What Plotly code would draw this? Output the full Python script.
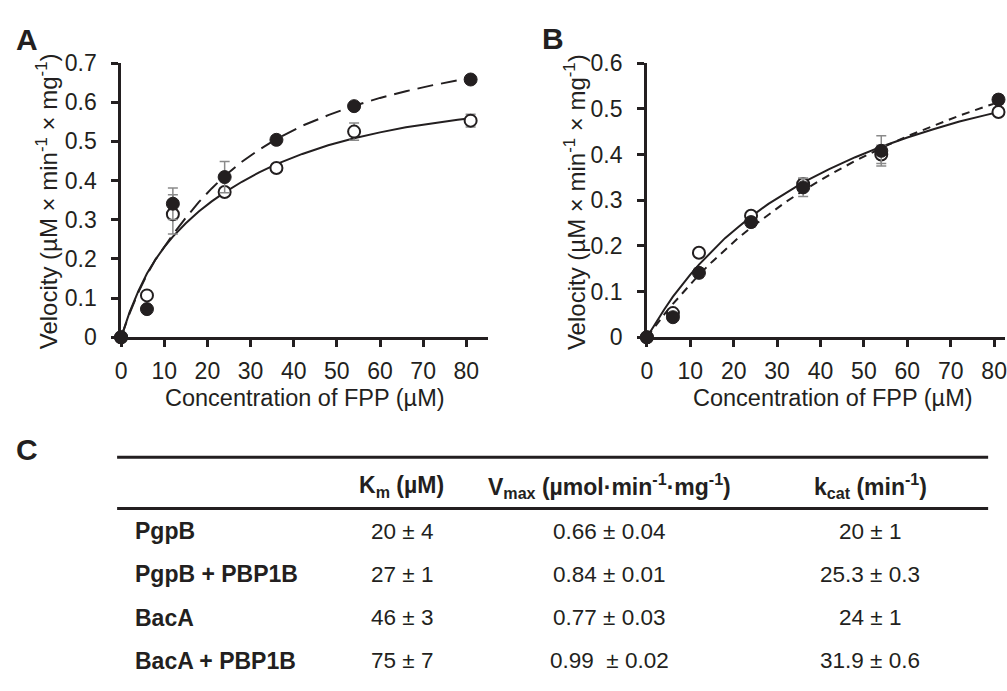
import plotly.graph_objects as go

# ---------------- data ----------------
conc = [0, 6, 12, 24, 36, 54, 81]

# Panel A
a_filled = [0, 0.072, 0.341, 0.409, 0.504, 0.590, 0.658]
a_filled_err = [0, 0.01, 0.04, 0.04, 0.01, 0.01, 0.01]
a_open = [0, 0.107, 0.314, 0.371, 0.432, 0.525, 0.553]
a_open_err = [0, 0.01, 0.05, 0.01, 0.01, 0.022, 0.016]

# Panel B
b_filled = [0, 0.044, 0.141, 0.252, 0.328, 0.408, 0.520]
b_filled_err = [0, 0.005, 0.01, 0.01, 0.02, 0.033, 0.01]
b_open = [0, 0.053, 0.185, 0.266, 0.335, 0.400, 0.493]
b_open_err = [0, 0.005, 0.005, 0.005, 0.013, 0.02, 0.005]

# fitted curves
fit_x = [0, 2, 4, 6, 8, 10, 12, 15, 18, 21, 24, 28, 32, 36, 42, 48, 54, 60, 66, 72, 78, 81]
a_fit_solid = [0, 0.065, 0.118, 0.163, 0.199, 0.230, 0.257, 0.291, 0.321, 0.347, 0.370, 0.397,
               0.421, 0.442, 0.468, 0.490, 0.508, 0.523, 0.536, 0.546, 0.555, 0.559]
a_fit_dash = [0, 0.062, 0.115, 0.160, 0.199, 0.232, 0.262, 0.305, 0.345, 0.380, 0.412, 0.448,
              0.479, 0.506, 0.540, 0.567, 0.591, 0.611, 0.628, 0.643, 0.656, 0.662]
b_fit_solid = [0, 0.032, 0.061, 0.089, 0.114, 0.137, 0.159, 0.189, 0.217, 0.241, 0.264, 0.292,
               0.316, 0.339, 0.368, 0.394, 0.417, 0.437, 0.455, 0.472, 0.486, 0.493]
b_fit_dash = [0, 0.026, 0.050, 0.073, 0.095, 0.117, 0.137, 0.165, 0.192, 0.217, 0.240, 0.269,
              0.296, 0.321, 0.355, 0.386, 0.414, 0.440, 0.463, 0.485, 0.505, 0.514]

x_ticks = [0, 10, 20, 30, 40, 50, 60, 70, 80]

# table
row_labels = ["PgpB", "PgpB + PBP1B", "BacA", "BacA + PBP1B"]
km_values = ["20 ± 4", "27 ± 1", "46 ± 3", "75 ± 7"]
vmax_values = ["0.66 ± 0.04", "0.84 ± 0.01", "0.77 ± 0.03", "0.99\u00a0 ± 0.02"]
kcat_values = ["20 ± 1", "25.3 ± 0.3", "24 ± 1", "31.9 ± 0.6"]
col_headers = ["K<sub>m</sub> (µM)",
               "V<sub>max</sub> (µmol·min<sup>-1</sup>·mg<sup>-1</sup>)",
               "k<sub>cat</sub> (min<sup>-1</sup>)"]

# ---------------- style ----------------
W, H = 1007, 691
INK = "#231f20"
GREY = "#8a8a8a"
FONT = "Liberation Sans, Arial, sans-serif"


def fx(p):
    return p / W


def fy(p):
    return 1 - p / H


fig = go.Figure()


def add_panel(xa, ya, x_fit, y_solid, y_dash, dash, y_open, e_open, y_fill, e_fill):
    fig.add_trace(go.Scatter(x=x_fit, y=y_solid, mode="lines", xaxis=xa, yaxis=ya,
                             line=dict(color=INK, width=2), hoverinfo="skip"))
    fig.add_trace(go.Scatter(x=x_fit, y=y_dash, mode="lines", xaxis=xa, yaxis=ya,
                             line=dict(color=INK, width=2, dash=dash), hoverinfo="skip"))
    fig.add_trace(go.Scatter(x=conc, y=y_open, mode="markers", xaxis=xa, yaxis=ya,
                             cliponaxis=False,
                             marker=dict(size=12, color="white", line=dict(color=INK, width=2)),
                             error_y=dict(type="data", array=e_open, color=GREY,
                                          thickness=1.5, width=5)))
    fig.add_trace(go.Scatter(x=conc, y=y_fill, mode="markers", xaxis=xa, yaxis=ya,
                             cliponaxis=False,
                             marker=dict(size=13, color=INK, line=dict(color=INK, width=1)),
                             error_y=dict(type="data", array=e_fill, color=GREY,
                                          thickness=1.5, width=5)))


add_panel("x", "y", fit_x, a_fit_solid, a_fit_dash, "16px,8px", a_open, a_open_err, a_filled, a_filled_err)
add_panel("x2", "y2", fit_x, b_fit_solid, b_fit_dash, "8px,6px", b_open, b_open_err, b_filled, b_filled_err)

axis_common = dict(showline=True, linecolor=INK, linewidth=2.5, ticks="outside", ticklen=7,
                   tickwidth=2.5, tickcolor=INK, showgrid=False, zeroline=False,
                   ticklabeloverflow="allow",
                   tickfont=dict(size=23, color=INK, family=FONT))

y_dom = [fy(337), fy(52)]
fig.update_layout(
    width=W, height=H, margin=dict(l=0, r=0, t=0, b=0),
    paper_bgcolor="white", plot_bgcolor="white", showlegend=False,
    font=dict(family=FONT, color=INK),
    xaxis=dict(domain=[fx(116), fx(485.75)], range=[0, 85], tickvals=x_ticks, anchor="y",
               ticklabelstandoff=4, **axis_common),
    yaxis=dict(domain=y_dom, range=[0, 0.7], dtick=0.1, tick0=0, anchor="x",
               ticklabelstandoff=10, **axis_common),
    xaxis2=dict(domain=[fx(646), 1.0], range=[0, 82.5], tickvals=x_ticks, anchor="y2",
                ticklabelstandoff=4, **axis_common),
    yaxis2=dict(domain=y_dom, range=[0, 0.6], dtick=0.1, tick0=0, anchor="x2",
                ticklabelstandoff=10, **axis_common),
)

ann = []
# panel letters
for letter, x, y in [("A", 21, 28), ("B", 551, 27), ("C", 21, 454)]:
    ann.append(dict(text="<b>%s</b>" % letter, x=fx(x), y=fy(y), xref="paper", yref="paper",
                    xanchor="center", yanchor="middle", showarrow=False,
                    font=dict(size=30, color=INK, family=FONT)))
# axis titles
ytitle = "Velocity (µM × min<sup>-1</sup> × mg<sup>-1</sup>)"
for x in (41, 573):
    ann.append(dict(text=ytitle, x=fx(x), y=fy(196), xref="paper", yref="paper", textangle=-90,
                    xanchor="center", yanchor="middle", showarrow=False,
                    font=dict(size=24, color=INK, family=FONT)))
for x in (301, 833.5):
    ann.append(dict(text="Concentration of FPP (µM)", x=fx(x), y=fy(400), xref="paper", yref="paper",
                    xanchor="center", yanchor="middle", showarrow=False,
                    font=dict(size=23.5, color=INK, family=FONT)))

# table header
col_x = [399, 608, 871]
for h, x in zip(col_headers, col_x):
    ann.append(dict(text="<b>%s</b>" % h, x=fx(x), y=fy(492), xref="paper", yref="paper",
                    xanchor="center", yanchor="middle", showarrow=False,
                    font=dict(size=23, color=INK, family=FONT)))
row_y = [538.3, 583.3, 628.3, 673.3]
for i, y in enumerate(row_y):
    ann.append(dict(text="<b>%s</b>" % row_labels[i], x=fx(128), y=fy(y), xref="paper", yref="paper",
                    xanchor="left", yanchor="middle", showarrow=False,
                    font=dict(size=23, color=INK, family=FONT)))
    for vals, x in zip([km_values, vmax_values, kcat_values], col_x):
        ann.append(dict(text=vals[i], x=fx(x), y=fy(y), xref="paper", yref="paper",
                        xanchor="center", yanchor="middle", showarrow=False,
                        font=dict(size=22.5, color=INK, family=FONT)))

fig.update_layout(annotations=ann)

shapes = []
for y in (461.7, 515):
    shapes.append(dict(type="line", xref="paper", yref="paper", x0=fx(112), x1=fx(990),
                       y0=fy(y), y1=fy(y), line=dict(color=INK, width=3)))
fig.update_layout(shapes=shapes)

fig.write_html("out.html", config={"displayModeBar": False},
               post_script="document.body.style.margin='0';document.body.style.padding='0';")
